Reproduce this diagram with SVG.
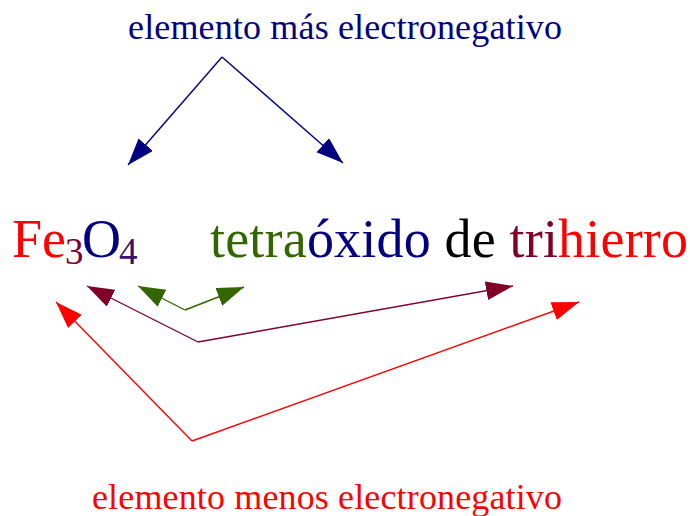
<svg xmlns="http://www.w3.org/2000/svg" width="690" height="516" viewBox="0 0 690 516">
<defs>
<style>
text{font-family:"Liberation Serif","Times New Roman",serif;}
.lbl{font-size:36px;}
.big{font-size:54px;}
.sub{font-size:37px;}
.c{fill:none;stroke-width:1.4;}
</style>
<marker id="aNavy" markerUnits="userSpaceOnUse" markerWidth="28" markerHeight="20" refX="27" refY="9.5" orient="auto"><path d="M0,0 L27,9.5 L0,19 z" fill="#000080"/></marker>
<marker id="aGreen" markerUnits="userSpaceOnUse" markerWidth="28" markerHeight="20" refX="27" refY="9.5" orient="auto"><path d="M0,0 L27,9.5 L0,19 z" fill="#336600"/></marker>
<marker id="aMaroon" markerUnits="userSpaceOnUse" markerWidth="28" markerHeight="20" refX="27" refY="9.5" orient="auto"><path d="M0,0 L27,9.5 L0,19 z" fill="#800028"/></marker>
<marker id="aRed" markerUnits="userSpaceOnUse" markerWidth="28" markerHeight="20" refX="27" refY="9.5" orient="auto"><path d="M0,0 L27,9.5 L0,19 z" fill="#FF0000"/></marker>
</defs>
<rect width="690" height="516" fill="#ffffff"/>
<g id="connectors">
<path class="c" stroke="#000080" d="M222,57 L128,165" marker-end="url(#aNavy)"/>
<path class="c" stroke="#000080" d="M222,57 L343,163" marker-end="url(#aNavy)"/>
<path class="c" stroke="#336600" d="M185,310 L138,286" marker-end="url(#aGreen)"/>
<path class="c" stroke="#336600" d="M185,310 L244,287" marker-end="url(#aGreen)"/>
<path class="c" stroke="#800028" d="M198,342 L87,286" marker-end="url(#aMaroon)"/>
<path class="c" stroke="#800028" d="M198,342 L513,286" marker-end="url(#aMaroon)"/>
<path class="c" stroke="#FF0000" d="M192,441 L56,302" marker-end="url(#aRed)"/>
<path class="c" stroke="#FF0000" d="M192,441 L579,302" marker-end="url(#aRed)"/>
</g>
<g id="label-top">
<text class="lbl" font-family="Liberation Serif, serif" x="128" y="39" fill="#000080" textLength="434" lengthAdjust="spacing">elemento más electronegativo</text>
</g>
<g id="formula">
<text class="big" font-family="Liberation Serif, serif" x="12" y="257" fill="#FF0000">Fe</text>
<text class="sub" font-family="Liberation Serif, serif" x="65" y="264" fill="#800030">3</text>
<text class="big" font-family="Liberation Serif, serif" x="82" y="257" fill="#000080">O</text>
<text class="sub" font-family="Liberation Serif, serif" x="119" y="264" fill="#3A0E66">4</text>
</g>
<g id="name">
<text class="big" font-family="Liberation Serif, serif" x="210" y="257" textLength="478" lengthAdjust="spacing"><tspan fill="#336600">tetra</tspan><tspan fill="#000080">óxido</tspan><tspan fill="#000000"> de </tspan><tspan fill="#800028">tri</tspan><tspan fill="#FF0000">hierro</tspan></text>
</g>
<g id="label-bottom">
<text class="lbl" font-family="Liberation Serif, serif" x="92" y="509" fill="#FF0000" textLength="470" lengthAdjust="spacing">elemento menos electronegativo</text>
</g>
</svg>
